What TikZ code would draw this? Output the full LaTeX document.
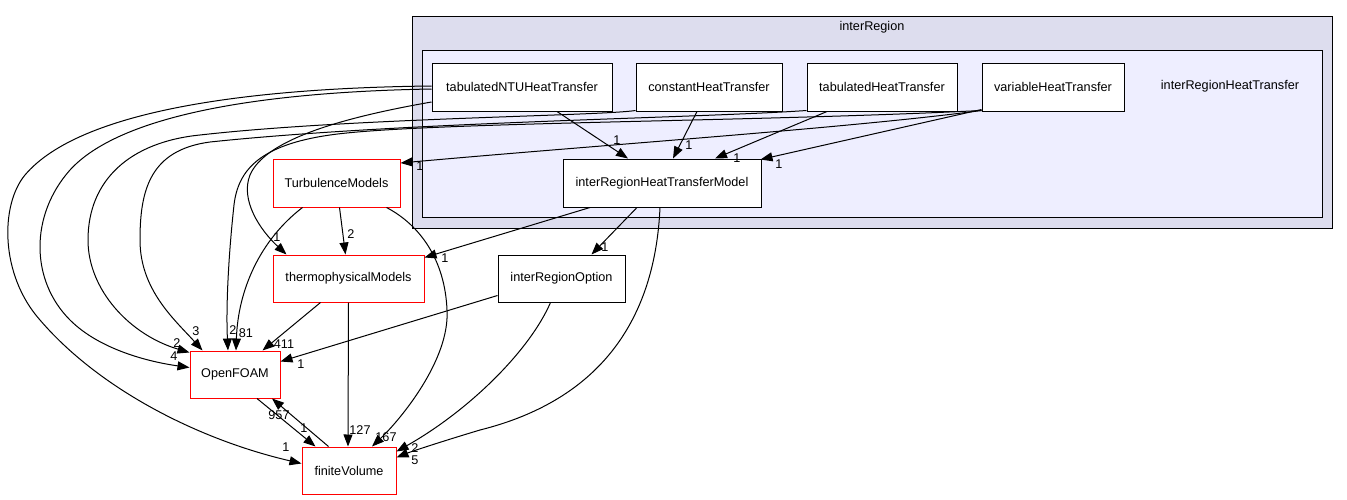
\documentclass[tikz,border=0pt]{standalone}
\usepackage{fontspec}
\setmainfont{Liberation Sans}
\usetikzlibrary{arrows.meta,calc}
\definecolor{outerfill}{HTML}{DDDDEE}
\definecolor{innerfill}{HTML}{EEEEFF}
\begin{document}
\begin{tikzpicture}[x=0.75pt,y=-0.75pt,
  font=\fontsize{9.5}{11}\selectfont,
  box/.style={draw=black, fill=white, line width=0.75pt, inner sep=0pt, minimum height=36pt},
  redbox/.style={box, draw=red},
  cluster/.style={draw=black, line width=0.75pt, inner sep=0pt},
  edge/.style={line width=0.75pt, -{Triangle[length=9pt,width=6.75pt]}},
  lbl/.style={inner sep=0pt}]
\useasboundingbox (0,0) rectangle (1347,500);
% clusters
\node[cluster, fill=outerfill, minimum width=690pt, minimum height=159pt] (outer) at (872,122) {};
\node[cluster, fill=innerfill, minimum width=675pt, minimum height=125.25pt] (inner) at (872,133.5) {};
\node[lbl] (outertitle) at (872,27) {interRegion};
\node[lbl] (innertitle) at (1230,86) {interRegionHeatTransfer};
% nodes
\node[box, minimum width=135pt] (ntu) at (522,87) {tabulatedNTUHeatTransfer};
\node[box, minimum width=109.5pt] (const) at (709,87) {constantHeatTransfer};
\node[box, minimum width=112.5pt] (tab) at (882,87) {tabulatedHeatTransfer};
\node[box, minimum width=106.5pt] (var) at (1053,87) {variableHeatTransfer};
\node[box, minimum width=148.5pt] (model) at (662,183) {interRegionHeatTransferModel};
\node[redbox, minimum width=95.25pt] (turb) at (336.5,183) {TurbulenceModels};
\node[redbox, minimum width=113.25pt, minimum height=35.25pt] (thermo) at (348.5,278.5) {thermophysicalModels};
\node[box, minimum width=95.25pt, minimum height=35.25pt] (option) at (561.5,278.5) {interRegionOption};
\node[redbox, minimum width=67.5pt, minimum height=35.25pt] (OF) at (235,374.5) {OpenFOAM};
\node[redbox, minimum width=70.5pt, minimum height=35.25pt] (fv) at (349,470.5) {finiteVolume};
% edges into model
\draw[edge] ($(ntu.south)+(35,0)$) -- ($(model.north)+(-34,0)$);
\draw[edge] ($(const.south)+(-12,0)$) -- ($(model.north)+(11,0)$);
\draw[edge] ($(tab.south)+(-55,0)$) -- ($(model.north)+(53,0)$);
\draw[edge] ($(var.south west)+(0,-2)$) -- ($(model.north east)+(-1,1)$);
% var -> turb
\draw[edge] ($(var.south west)+(0,-1)$) .. controls (850,128) and (600,145) .. ($(turb.east)+(0,-20)$);
% long curves
\draw[edge] ($(ntu.west)+(0,-1)$) .. controls (250,88) and (80,110) .. (25,175)
  .. controls (0,205) and (0,275) .. (40,320)
  .. controls (100,390) and (200,440) .. ($(fv.west)+(0,-7)$);
\draw[edge] ($(ntu.west)+(0,2)$) .. controls (260,92) and (120,115) .. (70,170)
  .. controls (30,215) and (30,280) .. (70,320)
  .. controls (100,350) and (150,362) .. ($(OF.west)+(0,-7)$);
\draw[edge] ($(const.south west)+(0,-1)$) .. controls (600,116) and (350,118) .. (200,135)
  .. controls (130,142) and (88,180) .. (88,240)
  .. controls (88,290) and (130,335) .. ($(OF.north west)+(0,2)$);
\draw[edge] ($(tab.south west)+(0,-1)$) .. controls (700,118) and (400,122) .. (210,142)
  .. controls (150,150) and (140,190) .. (140,240)
  .. controls (140,290) and (175,320) .. ($(OF.north west)+(13,0)$);
\draw[edge] ($(var.south west)+(0,-1)$) .. controls (750,122) and (420,122) .. (330,135)
  .. controls (260,145) and (238,170) .. (234,205)
  .. controls (228,260) and (226,310) .. ($(OF.north)+(-7,0)$);
\draw[edge] ($(ntu.west)+(0,15)$) .. controls (340,118) and (265,140) .. (250,175)
  .. controls (240,200) and (260,230) .. ($(thermo.north west)+(14,0)$);
% turbulence
\draw[edge] ($(turb.south)+(-34,0)$) .. controls (260,240) and (238,290) .. ($(OF.north)+(1,0)$);
\draw[edge] ($(turb.south)+(3,0)$) -- ($(thermo.north)+(-3,0)$);
\draw[edge] ($(turb.south)+(50,0)$) .. controls (420,225) and (445,260) .. (447,310)
  .. controls (450,360) and (400,420) .. ($(fv.north)+(23,0)$);
% thermo
\draw[edge] ($(thermo.south)+(-28,0)$) -- ($(OF.north east)+(-18,0)$);
\draw[edge] (thermo.south) -- ($(fv.north)+(-1,0)$);
% model
\draw[edge] ($(model.south)+(-72,0)$) -- ($(thermo.north east)+(0,3)$);
\draw[edge] ($(model.south)+(-25,0)$) -- ($(option.north)+(30,0)$);
\draw[edge] ($(model.south)+(-2,0)$) .. controls (655,320) and (600,400) .. (480,430)
  .. controls (440,442) and (410,452) .. ($(fv.east)+(0,-13)$);
% option
\draw[edge] ($(option.west)+(0,17)$) -- ($(OF.east)+(0,-13)$);
\draw[edge] ($(option.south)+(-11,0)$) .. controls (530,350) and (470,410) .. ($(fv.east)+(0,-19)$);
% OpenFOAM <-> finiteVolume
\draw[edge] ($(OF.south)+(22,0)$) -- ($(fv.north west)+(14,0)$);
\draw[edge] ($(fv.north west)+(27,0)$) -- ($(OF.south)+(37,0)$);
% edge labels
\node[lbl] (l1) at (617,140) {1};
\node[lbl] (l2) at (689,145) {1};
\node[lbl] (l3) at (737,158) {1};
\node[lbl] (l4) at (779,164) {1};
\node[lbl] (l5) at (420,166) {1};
\node[lbl] (l6) at (286,447) {1};
\node[lbl] (l7) at (174,356) {4};
\node[lbl] (l8) at (177,343) {2};
\node[lbl] (l9) at (196,331) {3};
\node[lbl] (l10) at (233,330) {2};
\node[lbl] (l11) at (246,333) {81};
\node[lbl] (l12) at (277,237) {1};
\node[lbl] (l13) at (351,234) {2};
\node[lbl] (l14) at (386,437) {167};
\node[lbl] (l15) at (284,344) {411};
\node[lbl] (l16) at (360,430) {127};
\node[lbl] (l17) at (445,258) {1};
\node[lbl] (l18) at (605,247) {1};
\node[lbl] (l19) at (415,460) {5};
\node[lbl] (l20) at (415,448) {2};
\node[lbl] (l21) at (301,364) {1};
\node[lbl] (l22) at (304,428) {1};
\node[lbl] (l23) at (279,415) {957};
\end{tikzpicture}
\end{document}
